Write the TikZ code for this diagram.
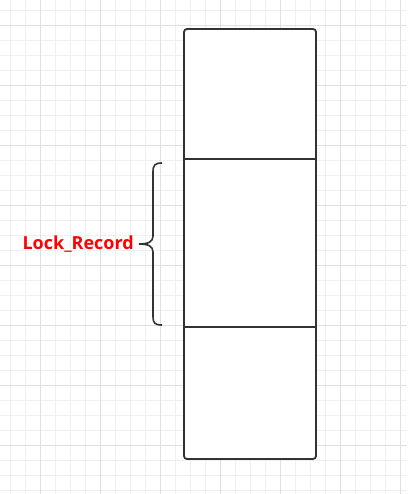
\documentclass[tikz,border=0pt]{standalone}
\usepackage{fontspec}
\setmainfont{Open Sans}
\begin{document}
\begin{tikzpicture}[x=1pt,y=-1pt,
  minor/.style={draw=black!6,line width=0.8pt},
  major/.style={draw=black!12,line width=0.8pt},
  cell/.style={draw=none,minimum width=132pt,inner sep=0pt,outer sep=0pt},
  frame/.style={draw=black!80,line width=1.8pt,rounded corners=3pt},
  bracestyle/.style={draw=black!80,line width=1.6pt},
  lbl/.style={text=red,font=\bfseries\fontsize{18}{21}\selectfont,inner sep=0pt,anchor=east}]
\useasboundingbox (0,0) rectangle (407,494);
\fill[white] (0,0) rectangle (407,494);
\foreach \x in {10,25,...,400} \draw[minor] (\x,0) -- (\x,494);
\foreach \y in {10,25,...,490} \draw[minor] (0,\y) -- (407,\y);
\foreach \x in {40,100,...,400} \draw[major] (\x,0) -- (\x,494);
\foreach \y in {25,85,...,490} \draw[major] (0,\y) -- (407,\y);
\node[cell,minimum height=130pt] (r1) at (250,94) {};
\node[cell,minimum height=168pt] (r2) at (250,243) {};
\node[cell,minimum height=132pt] (r3) at (250,393) {};
\fill[white] (r1.north west) rectangle (r3.south east);
\draw[frame] (r1.north west) rectangle (r3.south east);
\draw[frame] (r1.south west) -- (r1.south east);
\draw[frame] (r2.south west) -- (r2.south east);
\coordinate (bt) at (162,163);
\coordinate (bb) at (162,325);
\coordinate (tip) at (139,244);
\draw[bracestyle] (bt) .. controls (155,163) and (153,165) .. (153,172)
  -- (153,236) .. controls (153,242) and (148,244) .. (tip)
  .. controls (148,244) and (153,246) .. (153,252)
  -- (153,317) .. controls (153,323) and (155,325) .. (bb);
\node[lbl] (label) at (134,244) {Lock\_Record};
\end{tikzpicture}
\end{document}
